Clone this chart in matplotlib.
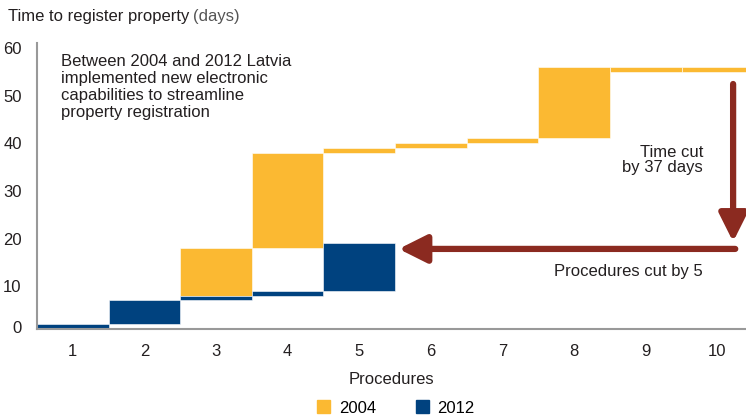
import matplotlib
matplotlib.use("Agg")
import matplotlib.pyplot as plt
import matplotlib.transforms as mtransforms
from matplotlib.patches import Patch

plt.rcParams['font.family'] = ['Liberation Sans', 'DejaVu Sans']

# data: bottom and top (days) of each procedure step
procs = [1, 2, 3, 4, 5, 6, 7, 8, 9, 10]
p2004 = [3, 4, 5, 6, 7, 8, 9, 10]
lo2004 = [7, 17, 37, 38, 39, 40, 54, 54]
hi2004 = [17, 37, 38, 39, 40, 55, 55, 55]
p2012 = [1, 2, 3, 4, 5]
lo2012 = [0, 1, 6, 7, 8]
hi2012 = [1, 6, 7, 8, 18]

orange = '#FBB932'
blue = '#00427F'
red = '#8B2A20'
grey = '#999999'
txt = '#231F20'

fig = plt.figure(figsize=(7.46, 4.18), dpi=100)
ax = fig.add_axes([37/746, 1-329/418, 1-37/746, (329-43)/418])

h04 = [h - l for h, l in zip(hi2004, lo2004)]
h12 = [h - l for h, l in zip(hi2012, lo2012)]
ax.bar(p2004, h04, bottom=lo2004, width=1.0, color=orange, edgecolor='white', linewidth=0.4)
ax.bar(p2012, h12, bottom=lo2012, width=1.0, color=blue, edgecolor='white', linewidth=0.4)

ax.set_xlim(0.5, 10.4)
ax.set_ylim(0, 60)
ax.set_xticks(procs)
ax.set_yticks(range(0, 61, 10))
ax.tick_params(length=0, labelsize=12, colors=txt, pad=11)
ax.tick_params(axis='y', pad=11)
# y labels sit a little below their ticks in the original
for i, lab in enumerate(ax.get_yticklabels()):
    dy = 2 if i == 0 else -5
    lab.set_transform(lab.get_transform() + mtransforms.ScaledTranslation(0, dy/100, fig.dpi_scale_trans))
for s in ['top', 'right']:
    ax.spines[s].set_visible(False)
for s in ['left', 'bottom']:
    ax.spines[s].set_color(grey)
    ax.spines[s].set_linewidth(1.5)
ax.set_xlabel('Procedures', fontsize=12, color=txt, labelpad=9)

# arrows
ax.annotate('', xy=(10.22, 18.3), xytext=(10.22, 51.4),
            arrowprops=dict(arrowstyle='-|>,head_length=1.7,head_width=0.85', color=red, lw=4.5, shrinkA=0, shrinkB=0))
ax.annotate('', xy=(5.55, 16.8), xytext=(10.25, 16.8),
            arrowprops=dict(arrowstyle='-|>,head_length=1.7,head_width=0.85', color=red, lw=4.5, shrinkA=0, shrinkB=0))
ax.text(9.8, 35.4, 'Time cut\nby 37 days', ha='right', va='center', fontsize=12, color=txt, linespacing=1.0)
ax.text(9.8, 12.0, 'Procedures cut by 5', ha='right', va='center', fontsize=12, color=txt)
ax.text(0.83, 57.6, 'Between 2004 and 2012 Latvia\nimplemented new electronic\ncapabilities to streamline\nproperty registration',
        ha='left', va='top', fontsize=12, color=txt, linespacing=1.15)

t1 = fig.text(8/746, 1-17/418, 'Time to register property', ha='left', va='center', fontsize=12, color=txt)
fig.canvas.draw()
bb = t1.get_window_extent()
fig.text(bb.x1/746 + 4/746, 1-17/418, '(days)', ha='left', va='center', fontsize=12, color='#555555')

fig.legend(handles=[Patch(color=orange, label='2004'), Patch(color=blue, label='2012')],
           loc='center', bbox_to_anchor=(396/746, 1-408/418), ncol=2, frameon=False,
           fontsize=12, handlelength=0.8, handleheight=0.8, columnspacing=2.4, handletextpad=0.5)

fig.savefig('out.png', dpi=100)
